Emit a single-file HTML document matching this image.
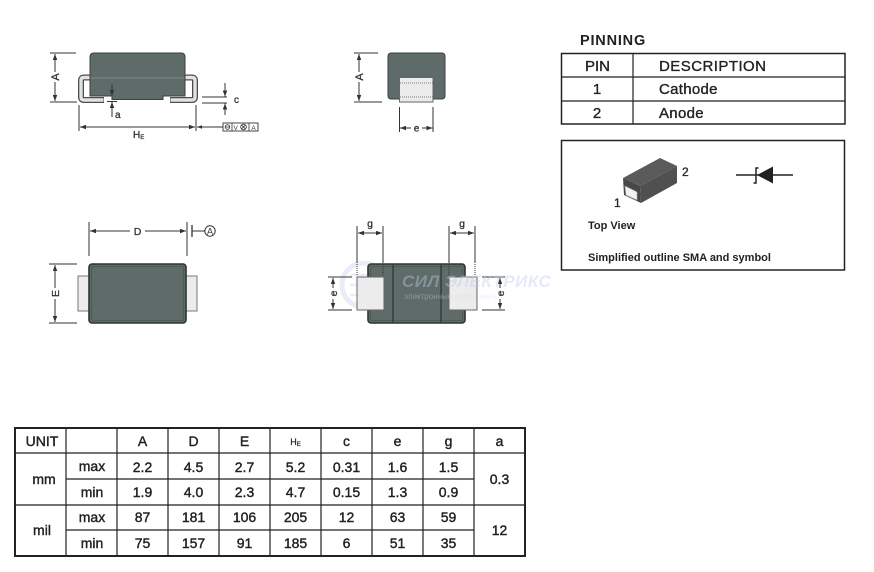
<!DOCTYPE html>
<html><head><meta charset="utf-8">
<style>
html,body{margin:0;padding:0;background:#fff;}
svg{display:block;}
text{font-family:"Liberation Sans",Arial,sans-serif;}
</style></head>
<body>
<svg width="874" height="572" viewBox="0 0 874 572" xmlns="http://www.w3.org/2000/svg">
<defs>
<marker id="ah" viewBox="0 0 8 6" refX="8" refY="3" markerWidth="6" markerHeight="4.5" markerUnits="userSpaceOnUse" orient="auto-start-reverse">
<path d="M0,0 L8,3 L0,6 Z" fill="#333"/>
</marker>
</defs>

<!-- ===== Watermark (faint) ===== -->
<g opacity="0.4">
<circle cx="364" cy="285" r="22" fill="none" stroke="#c6d4ec" stroke-width="5"/>
<path d="M350,275 L372,275 M350,285 L378,285 M350,295 L372,295" stroke="#c6d4ec" stroke-width="2.5"/>
<circle cx="376" cy="275" r="3" fill="none" stroke="#c6d4ec" stroke-width="2"/>
<circle cx="382" cy="285" r="3" fill="none" stroke="#c6d4ec" stroke-width="2"/>
<circle cx="376" cy="295" r="3" fill="none" stroke="#c6d4ec" stroke-width="2"/>
</g>

<!-- ===== Side view ===== -->
<g>
<path d="M92,77.5 L84,77.5 Q81,77.5 81,80.5 L81,97 Q81,100 84,100 L104,100" fill="none" stroke="#4a4f4e" stroke-width="6"/>
<path d="M92,77.5 L84,77.5 Q81,77.5 81,80.5 L81,97 Q81,100 84,100 L103.5,100" fill="none" stroke="#e2e2e2" stroke-width="3.4"/>
<path d="M183,77.5 L192,77.5 Q195,77.5 195,80.5 L195,97 Q195,100 192,100 L170,100" fill="none" stroke="#4a4f4e" stroke-width="6"/>
<path d="M183,77.5 L192,77.5 Q195,77.5 195,80.5 L195,97 Q195,100 192,100 L170.5,100" fill="none" stroke="#e2e2e2" stroke-width="3.4"/>
<path d="M90,57 Q90,53 94,53 L181,53 Q185,53 185,57 L185,96 L163,96 L163,99.5 L112,99.5 L112,96 L90,96 Z" fill="#5e6b68" stroke="#3a403f" stroke-width="1"/>
<line x1="90.5" y1="78" x2="184.5" y2="78" stroke="#7d8a86" stroke-width="1"/>
<line x1="50" y1="53" x2="76" y2="53" stroke="#333" stroke-width="1"/>
<line x1="50" y1="102" x2="77" y2="102" stroke="#333" stroke-width="1"/>
<line x1="55" y1="54" x2="55" y2="101" stroke="#333" stroke-width="1" marker-start="url(#ah)" marker-end="url(#ah)"/>
<rect x="50" y="72" width="10" height="10" fill="#fff"/>
<text x="0" y="0" font-size="11" fill="#333" stroke="#333" stroke-width="0.3" text-anchor="middle" transform="translate(59,77) rotate(-90)">A</text>
<line x1="112" y1="84" x2="112" y2="96" stroke="#333" stroke-width="1" marker-end="url(#ah)"/>
<line x1="107" y1="101.5" x2="117" y2="101.5" stroke="#333" stroke-width="1"/>
<line x1="112" y1="117" x2="112" y2="102" stroke="#333" stroke-width="1" marker-end="url(#ah)"/>
<text x="115" y="118" font-size="10" fill="#333" stroke="#333" stroke-width="0.3">a</text>
<line x1="79" y1="105" x2="79" y2="131" stroke="#333" stroke-width="1"/>
<line x1="196" y1="105" x2="196" y2="131" stroke="#333" stroke-width="1"/>
<line x1="80" y1="127" x2="195" y2="127" stroke="#333" stroke-width="1" marker-start="url(#ah)" marker-end="url(#ah)"/>
<text x="133" y="138" font-size="10" fill="#333" stroke="#333" stroke-width="0.3">H<tspan font-size="6" dy="1">E</tspan></text>
<line x1="197" y1="127" x2="223" y2="127" stroke="#333" stroke-width="1"/>
<path d="M197,127 L202,125.3 L202,128.7 Z" fill="#333"/>
<rect x="223" y="123" width="35" height="8" fill="#fff" stroke="#333" stroke-width="0.9"/>
<line x1="232" y1="123" x2="232" y2="131" stroke="#333" stroke-width="0.8"/>
<line x1="249" y1="123" x2="249" y2="131" stroke="#333" stroke-width="0.8"/>
<circle cx="227.5" cy="127" r="2.3" fill="none" stroke="#333" stroke-width="0.8"/>
<line x1="225" y1="127" x2="230" y2="127" stroke="#333" stroke-width="0.8"/>
<text x="233.5" y="129.8" font-size="6.5" fill="#333">V</text>
<circle cx="243.5" cy="127" r="2.8" fill="none" stroke="#333" stroke-width="0.8"/>
<path d="M241.5,125 L245.5,129 M245.5,125 L241.5,129" stroke="#333" stroke-width="0.8"/>
<text x="253.5" y="129.8" font-size="6.5" fill="#333" text-anchor="middle">A</text>
<line x1="202" y1="97" x2="227" y2="97" stroke="#333" stroke-width="1"/>
<line x1="202" y1="103" x2="227" y2="103" stroke="#333" stroke-width="1"/>
<line x1="225" y1="83" x2="225" y2="96.5" stroke="#333" stroke-width="1" marker-end="url(#ah)"/>
<line x1="225" y1="115" x2="225" y2="103.5" stroke="#333" stroke-width="1" marker-end="url(#ah)"/>
<text x="234" y="103" font-size="10" fill="#333" stroke="#333" stroke-width="0.3">c</text>
</g>

<!-- ===== End view ===== -->
<g>
<rect x="388" y="53" width="57" height="46" rx="3" fill="#5e6b68" stroke="#3a403f" stroke-width="1"/>
<rect x="399.5" y="77.5" width="33.5" height="24.5" fill="#ececec" stroke="#666" stroke-width="1"/>
<line x1="400" y1="83" x2="432.5" y2="83" stroke="#777" stroke-width="1" stroke-dasharray="1,1"/>
<line x1="400" y1="97" x2="432.5" y2="97" stroke="#777" stroke-width="1" stroke-dasharray="1,1"/>
<line x1="354" y1="53" x2="378" y2="53" stroke="#333" stroke-width="1"/>
<line x1="354" y1="102" x2="382" y2="102" stroke="#333" stroke-width="1"/>
<line x1="359" y1="54" x2="359" y2="101" stroke="#333" stroke-width="1" marker-start="url(#ah)" marker-end="url(#ah)"/>
<rect x="354" y="72" width="10" height="10" fill="#fff"/>
<text x="0" y="0" font-size="11" fill="#333" stroke="#333" stroke-width="0.3" text-anchor="middle" transform="translate(363,77) rotate(-90)">A</text>
<line x1="399.5" y1="107" x2="399.5" y2="132" stroke="#333" stroke-width="1"/>
<line x1="433" y1="107" x2="433" y2="132" stroke="#333" stroke-width="1"/>
<line x1="411" y1="128" x2="400" y2="128" stroke="#333" stroke-width="1" marker-end="url(#ah)"/>
<line x1="422" y1="128" x2="432.5" y2="128" stroke="#333" stroke-width="1" marker-end="url(#ah)"/>
<text x="416.5" y="131.5" font-size="10" fill="#333" stroke="#333" stroke-width="0.3" text-anchor="middle">e</text>
</g>

<!-- ===== Top view ===== -->
<g>
<rect x="78" y="276" width="11" height="35" fill="#ececec" stroke="#777" stroke-width="1"/>
<rect x="186" y="276" width="11" height="35" fill="#ececec" stroke="#777" stroke-width="1"/>
<rect x="89" y="264" width="97" height="59" rx="3" fill="#5e6b68" stroke="#2f3534" stroke-width="1.6"/>
<rect x="91.5" y="266.5" width="92" height="54" rx="1.5" fill="none" stroke="#4a5553" stroke-width="0.8"/>
<line x1="89" y1="222" x2="89" y2="256" stroke="#333" stroke-width="1"/>
<line x1="187" y1="222" x2="187" y2="256" stroke="#333" stroke-width="1"/>
<line x1="130" y1="231" x2="90" y2="231" stroke="#333" stroke-width="1" marker-end="url(#ah)"/>
<line x1="145" y1="231" x2="186" y2="231" stroke="#333" stroke-width="1" marker-end="url(#ah)"/>
<text x="137.5" y="235" font-size="10.5" fill="#333" stroke="#333" stroke-width="0.3" text-anchor="middle">D</text>
<line x1="192" y1="225" x2="192" y2="237" stroke="#333" stroke-width="1.3"/>
<line x1="192" y1="231" x2="205" y2="231" stroke="#333" stroke-width="1"/>
<circle cx="210" cy="231" r="5.2" fill="#fff" stroke="#333" stroke-width="1"/>
<text x="210" y="234.5" font-size="9" fill="#333" text-anchor="middle">A</text>
<line x1="49" y1="264" x2="77" y2="264" stroke="#333" stroke-width="1"/>
<line x1="49" y1="323" x2="77" y2="323" stroke="#333" stroke-width="1"/>
<line x1="55" y1="265" x2="55" y2="322" stroke="#333" stroke-width="1" marker-start="url(#ah)" marker-end="url(#ah)"/>
<rect x="50" y="288" width="10" height="11" fill="#fff"/>
<text x="0" y="0" font-size="10.5" fill="#333" stroke="#333" stroke-width="0.3" text-anchor="middle" transform="translate(59,293.5) rotate(-90)">E</text>
</g>

<!-- ===== Bottom view ===== -->
<g>
<rect x="368" y="264" width="97" height="59" rx="3" fill="#5e6b68" stroke="#2f3534" stroke-width="1.6"/>
<rect x="370.5" y="266.5" width="92" height="54" rx="1.5" fill="none" stroke="#4a5553" stroke-width="0.8"/>
<line x1="393" y1="265" x2="393" y2="322" stroke="#2f3534" stroke-width="1.3"/>
<line x1="441" y1="265" x2="441" y2="322" stroke="#2f3534" stroke-width="1.3"/>
<rect x="357" y="277" width="27" height="33" fill="#ececec" stroke="#666" stroke-width="1"/>
<rect x="449" y="277" width="28" height="33" fill="#ececec" stroke="#666" stroke-width="1"/>
<line x1="357" y1="226" x2="357" y2="262" stroke="#333" stroke-width="1"/>
<line x1="357" y1="262" x2="357" y2="275" stroke="#333" stroke-width="1" stroke-dasharray="1,1"/>
<line x1="383" y1="226" x2="383" y2="262" stroke="#333" stroke-width="1"/>
<line x1="383" y1="262" x2="383" y2="275" stroke="#333" stroke-width="1" stroke-dasharray="1,1"/>
<line x1="358" y1="233" x2="382" y2="233" stroke="#333" stroke-width="1" marker-start="url(#ah)" marker-end="url(#ah)"/>
<text x="370" y="227" font-size="10.5" fill="#333" stroke="#333" stroke-width="0.3" text-anchor="middle">g</text>
<line x1="449" y1="226" x2="449" y2="262" stroke="#333" stroke-width="1"/>
<line x1="449" y1="262" x2="449" y2="275" stroke="#333" stroke-width="1" stroke-dasharray="1,1"/>
<line x1="475" y1="226" x2="475" y2="262" stroke="#333" stroke-width="1"/>
<line x1="475" y1="262" x2="475" y2="275" stroke="#333" stroke-width="1" stroke-dasharray="1,1"/>
<line x1="450" y1="233" x2="474" y2="233" stroke="#333" stroke-width="1" marker-start="url(#ah)" marker-end="url(#ah)"/>
<text x="462" y="227" font-size="10.5" fill="#333" stroke="#333" stroke-width="0.3" text-anchor="middle">g</text>
<line x1="328" y1="277" x2="352" y2="277" stroke="#333" stroke-width="1"/>
<line x1="328" y1="310" x2="352" y2="310" stroke="#333" stroke-width="1"/>
<line x1="333" y1="278" x2="333" y2="309" stroke="#333" stroke-width="1" marker-start="url(#ah)" marker-end="url(#ah)"/>
<rect x="328" y="288" width="10" height="11" fill="#fff"/>
<text x="0" y="0" font-size="10.5" fill="#333" stroke="#333" stroke-width="0.3" text-anchor="middle" transform="translate(337,293.5) rotate(-90)">e</text>
<line x1="482" y1="277" x2="505" y2="277" stroke="#333" stroke-width="1"/>
<line x1="482" y1="310" x2="505" y2="310" stroke="#333" stroke-width="1"/>
<line x1="500" y1="278" x2="500" y2="309" stroke="#333" stroke-width="1" marker-start="url(#ah)" marker-end="url(#ah)"/>
<rect x="495" y="288" width="10" height="11" fill="#fff"/>
<text x="0" y="0" font-size="10.5" fill="#333" stroke="#333" stroke-width="0.3" text-anchor="middle" transform="translate(504,293.5) rotate(-90)">e</text>
</g>

<g opacity="0.4">
<text x="402" y="287" font-size="17" font-weight="bold" font-style="italic" fill="#bccde9" letter-spacing="0.5">СИЛ ЭЛЕКТРИКС</text>
<text x="404" y="299" font-size="8" fill="#cdd9ee">электронные компоненты</text>
</g>

<!-- ===== PINNING ===== -->
<text x="580" y="45" font-size="14.5" font-weight="bold" fill="#222" letter-spacing="0.8">PINNING</text>
<rect x="561.5" y="53.5" width="283.5" height="70.5" fill="none" stroke="#222" stroke-width="1.5"/>
<line x1="561.5" y1="77" x2="845" y2="77" stroke="#222" stroke-width="1.2"/>
<line x1="561.5" y1="101" x2="845" y2="101" stroke="#222" stroke-width="1.2"/>
<line x1="633" y1="53.5" x2="633" y2="124" stroke="#222" stroke-width="1.2"/>
<g font-size="15" fill="#222" stroke="#222" stroke-width="0.35">
<text x="597.5" y="71" text-anchor="middle">PIN</text>
<text x="659" y="71" letter-spacing="0.45">DESCRIPTION</text>
<text x="597" y="94" text-anchor="middle">1</text>
<text x="659" y="94" letter-spacing="0.3">Cathode</text>
<text x="597" y="118" text-anchor="middle">2</text>
<text x="659" y="118" letter-spacing="0.3">Anode</text>
</g>

<!-- ===== Outline box ===== -->
<rect x="561.5" y="140.5" width="283" height="129.5" fill="none" stroke="#222" stroke-width="1.5"/>
<path d="M623,178 L660,158 L677,166 L640,186 Z" fill="#5a5a5a"/>
<path d="M623,178 L640,186 L641,203 L624,195 Z" fill="#474747"/>
<path d="M640,186 L677,166 L677,183 L641,203 Z" fill="#505050"/>
<path d="M625,186 L637,192 L637,200 L626,195 Z" fill="#f2f2f2" stroke="#aaa" stroke-width="0.6"/>
<text x="682" y="176" font-size="12" fill="#222" stroke="#222" stroke-width="0.3">2</text>
<text x="614" y="207" font-size="12" fill="#222" stroke="#222" stroke-width="0.3">1</text>
<text x="588" y="229" font-size="11" font-weight="bold" fill="#222">Top View</text>
<text x="588" y="261" font-size="11" font-weight="bold" fill="#222">Simplified outline SMA and symbol</text>
<line x1="736" y1="175" x2="793" y2="175" stroke="#222" stroke-width="1.4"/>
<path d="M757,175 L773,166.5 L773,183.5 Z" fill="#222"/>
<path d="M758.5,168 L756,168 L756,183 L753.5,183" fill="none" stroke="#222" stroke-width="1.5"/>

<!-- ===== Dimension table ===== -->
<g stroke="#222" fill="none">
<rect x="15" y="428" width="510" height="128" stroke-width="2"/>
<line x1="15" y1="453" x2="525" y2="453" stroke-width="1.3"/>
<line x1="15" y1="505" x2="525" y2="505" stroke-width="1.3"/>
<line x1="66" y1="479" x2="474" y2="479" stroke-width="1.2"/>
<line x1="66" y1="530" x2="474" y2="530" stroke-width="1.2"/>
<line x1="66" y1="428" x2="66" y2="556" stroke-width="1.2"/>
<line x1="117" y1="428" x2="117" y2="556" stroke-width="1.2"/>
<line x1="168" y1="428" x2="168" y2="556" stroke-width="1.2"/>
<line x1="219" y1="428" x2="219" y2="556" stroke-width="1.2"/>
<line x1="270" y1="428" x2="270" y2="556" stroke-width="1.2"/>
<line x1="321" y1="428" x2="321" y2="556" stroke-width="1.2"/>
<line x1="372" y1="428" x2="372" y2="556" stroke-width="1.2"/>
<line x1="423" y1="428" x2="423" y2="556" stroke-width="1.2"/>
<line x1="474" y1="428" x2="474" y2="556" stroke-width="1.2"/>
</g>
<g font-size="14" fill="#222" stroke="#222" stroke-width="0.4" text-anchor="middle">
<text x="42" y="446">UNIT</text>
<text x="142.5" y="446">A</text>
<text x="193.5" y="446">D</text>
<text x="244.5" y="446">E</text>
<text x="295.5" y="445" font-size="9" stroke-width="0.2">H<tspan font-size="6" dy="1">E</tspan></text>
<text x="346.5" y="446">c</text>
<text x="397.5" y="446">e</text>
<text x="448.5" y="446">g</text>
<text x="499.5" y="446">a</text>

<text x="44" y="484">mm</text>
<text x="42" y="535">mil</text>
<text x="92" y="471">max</text>
<text x="92" y="497">min</text>
<text x="92" y="522">max</text>
<text x="92" y="548">min</text>

<text x="142.5" y="472">2.2</text>
<text x="193.5" y="472">4.5</text>
<text x="244.5" y="472">2.7</text>
<text x="295.5" y="472">5.2</text>
<text x="346.5" y="472">0.31</text>
<text x="397.5" y="472">1.6</text>
<text x="448.5" y="472">1.5</text>

<text x="142.5" y="497">1.9</text>
<text x="193.5" y="497">4.0</text>
<text x="244.5" y="497">2.3</text>
<text x="295.5" y="497">4.7</text>
<text x="346.5" y="497">0.15</text>
<text x="397.5" y="497">1.3</text>
<text x="448.5" y="497">0.9</text>

<text x="142.5" y="522">87</text>
<text x="193.5" y="522">181</text>
<text x="244.5" y="522">106</text>
<text x="295.5" y="522">205</text>
<text x="346.5" y="522">12</text>
<text x="397.5" y="522">63</text>
<text x="448.5" y="522">59</text>

<text x="142.5" y="548">75</text>
<text x="193.5" y="548">157</text>
<text x="244.5" y="548">91</text>
<text x="295.5" y="548">185</text>
<text x="346.5" y="548">6</text>
<text x="397.5" y="548">51</text>
<text x="448.5" y="548">35</text>

<text x="499.5" y="484">0.3</text>
<text x="499.5" y="535">12</text>
</g>
</svg>
</body></html>
